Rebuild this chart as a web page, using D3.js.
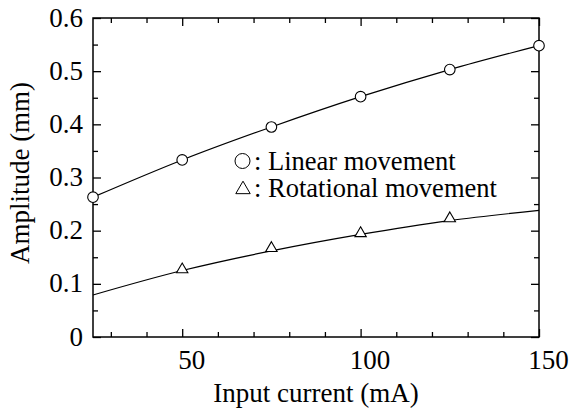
<!DOCTYPE html>
<html><head><meta charset="utf-8">
<script src="https://cdn.jsdelivr.net/npm/d3@7"></script>
</head><body><svg id="c" width="570" height="417"></svg>
<script>
const currents = [25, 50, 75, 100, 125, 150];
const linearAmp = [0.263, 0.333, 0.395, 0.452, 0.503, 0.548];
const rotationalFit = [0.079, 0.125, 0.162, 0.193, 0.219, 0.238];
const rotationalPts = [null, 0.125, 0.165, 0.193, 0.221, null];
const xTicks = [50, 100, 150];
const yTicks = [0, 0.1, 0.2, 0.3, 0.4, 0.5, 0.6];
const legendLabels = [": Linear movement", ": Rotational movement"];

d3.select("body").style("margin", "0").style("background", "#fff");
const svg = d3.select("#c").style("display", "block").attr("font-family", "Liberation Serif");
const fam = sel => sel.attr("font-family", "Liberation Serif").style("font-family", d => '"Liberation Serif"');
const m = {l: 93, t: 18, r: 539, b: 337};
const x = d3.scaleLinear().domain([25, 150]).range([m.l, m.r]);
const y = d3.scaleLinear().domain([0, 0.6]).range([m.b, m.t]);

const xMinor = d3.range(30, 150, 10).filter(v => !xTicks.includes(v));
const yMinor = d3.range(0.05, 0.6, 0.1);

function ticks(axisFn, scale, vals, len, transform) {
  const g = svg.append("g").attr("transform", transform)
    .call(axisFn(scale).tickValues(vals).tickSize(len).tickFormat(""));
  g.select(".domain").remove();
  g.selectAll("text").remove();
  g.selectAll("line").attr("stroke", "#000").attr("stroke-width", 1.3);
  return g;
}
ticks(d3.axisTop, x, xTicks, 8, `translate(0,${m.b})`);
ticks(d3.axisTop, x, xMinor, 5, `translate(0,${m.b})`);
ticks(d3.axisBottom, x, xTicks, 8, `translate(0,${m.t})`);
ticks(d3.axisBottom, x, xMinor, 5, `translate(0,${m.t})`);
ticks(d3.axisRight, y, yTicks, 8, `translate(${m.l},0)`);
ticks(d3.axisRight, y, yMinor, 5, `translate(${m.l},0)`);
ticks(d3.axisLeft, y, yTicks, 8, `translate(${m.r},0)`);
ticks(d3.axisLeft, y, yMinor, 5, `translate(${m.r},0)`);

svg.append("rect").attr("x", m.l).attr("y", m.t).attr("width", m.r - m.l).attr("height", m.b - m.t)
  .attr("fill", "none").attr("stroke", "#000").attr("stroke-width", 1.5);

svg.append("g").selectAll("text").data(xTicks).join("text").call(fam)
  .attr("x", d => x(d) + 9.5).attr("y", 368.5).attr("text-anchor", "middle")
  .attr("font-size", 27).text(d => d);
svg.append("g").selectAll("text").data(yTicks).join("text").call(fam)
  .attr("x", 83).attr("y", d => y(d) + 8.5).attr("text-anchor", "end")
  .attr("font-size", 27).text(d => d === 0 ? "0" : d3.format(".1f")(d));

svg.append("text").call(fam).attr("x", (m.l + m.r) / 2).attr("y", 402).attr("text-anchor", "middle")
  .attr("font-size", 27).text("Input current (mA)");
svg.append("text").call(fam).attr("transform", `translate(29,173) rotate(-90)`)
  .attr("text-anchor", "middle").attr("font-size", 27).text("Amplitude (mm)");

const line = d3.line().x(d => x(d[0])).y(d => y(d[1])).curve(d3.curveMonotoneX);
svg.append("path").datum(currents.map((c, i) => [c, linearAmp[i]])).attr("d", line)
  .attr("fill", "none").attr("stroke", "#000").attr("stroke-width", 1.2);
svg.append("path").datum(currents.map((c, i) => [c, rotationalFit[i]])).attr("d", line)
  .attr("fill", "none").attr("stroke", "#000").attr("stroke-width", 1.2);

svg.append("g").selectAll("circle").data(currents.map((c, i) => [c, linearAmp[i]])).join("circle")
  .attr("cx", d => x(d[0])).attr("cy", d => y(d[1])).attr("r", 5.3)
  .attr("fill", "#fff").attr("stroke", "#000").attr("stroke-width", 1.1);
const tri = d3.symbol().type(d3.symbolTriangle).size(56);
svg.append("g").selectAll("path").data(currents.map((c, i) => [c, rotationalPts[i]]).filter(d => d[1] != null)).join("path")
  .attr("d", tri).attr("transform", d => `translate(${x(d[0])},${y(d[1]) - 1})`)
  .attr("fill", "#fff").attr("stroke", "#000").attr("stroke-width", 1.1);

svg.append("circle").attr("cx", 242.5).attr("cy", 161).attr("r", 7.5)
  .attr("fill", "none").attr("stroke", "#000").attr("stroke-width", 1);
svg.append("path").attr("d", d3.symbol().type(d3.symbolTriangle).size(90))
  .attr("transform", "translate(243,189.5)").attr("fill", "none").attr("stroke", "#000").attr("stroke-width", 1);
svg.append("g").selectAll("text").data(legendLabels).join("text").call(fam)
  .attr("x", 254).attr("y", (d, i) => 170 + i * 27).attr("font-size", 26.5).text(d => d);
</script></body></html>
